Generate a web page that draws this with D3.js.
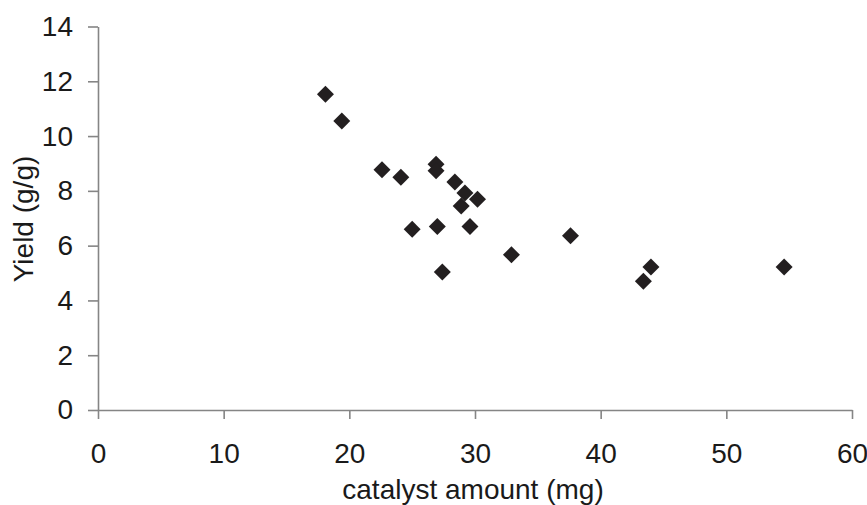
<!DOCTYPE html>
<html>
<head>
<meta charset="utf-8">
<script src="https://cdn.jsdelivr.net/npm/d3@7"></script>
<style>
  body { margin: 0; background: #fff; }
  svg { display: block; font-family: "Liberation Sans", Arial, sans-serif; }
</style>
</head>
<body>
<svg id="chart" width="867" height="505"></svg>
<script>
// catalyst amount (mg) vs yield (g/g)
const catalyst = [18.1, 19.4, 22.6, 24.1, 26.9, 26.9, 28.4, 29.2, 30.2, 28.9,
                  25.0, 27.0, 29.6, 37.6, 32.9, 27.4, 44.0, 43.4, 54.6];
const yieldVals = [11.53, 10.55, 8.77, 8.50, 8.97, 8.73, 8.32, 7.92, 7.69, 7.45,
                   6.60, 6.70, 6.70, 6.36, 5.67, 5.04, 5.22, 4.70, 5.22];
const xTicks = [0, 10, 20, 30, 40, 50, 60];
const yTicks = [0, 2, 4, 6, 8, 10, 12, 14];

const margin = { top: 26.5, right: 15, bottom: 95, left: 98 };
const width = 852 - margin.left;
const height = 410 - margin.top;

const svg = d3.select("#chart");
const g = svg.append("g")
    .attr("transform", `translate(${margin.left},${margin.top})`);

const x = d3.scaleLinear().domain([0, 60]).range([0, width]);
const y = d3.scaleLinear().domain([0, 14]).range([height, 0]);

const axisColor = "#858585";
const textColor = "#1a1a1a";

// X axis
const xAxis = g.append("g")
    .attr("transform", `translate(0,${height})`)
    .call(d3.axisBottom(x).tickValues(xTicks).tickSize(9).tickPadding(24).tickSizeOuter(0));

// Y axis
const yAxis = g.append("g")
    .call(d3.axisLeft(y).tickValues(yTicks).tickSize(10).tickPadding(15).tickSizeOuter(0));

[xAxis, yAxis].forEach(ax => {
    ax.select(".domain").attr("stroke", axisColor).attr("stroke-width", 1.6);
    ax.selectAll(".tick line").attr("stroke", axisColor).attr("stroke-width", 1.6);
    ax.selectAll(".tick text")
        .attr("fill", textColor)
        .style("font-size", "28px")
        .style("font-family", "'Liberation Sans', Arial, sans-serif");
});

// Axis titles
svg.append("text")
    .attr("x", 473)
    .attr("y", 499)
    .attr("text-anchor", "middle")
    .attr("fill", textColor)
    .style("font-size", "28px")
    .text("catalyst amount (mg)");

svg.append("text")
    .attr("transform", "translate(33,219) rotate(-90)")
    .attr("text-anchor", "middle")
    .attr("fill", textColor)
    .style("font-size", "28px")
    .text("Yield (g/g)");

// Points (diamonds)
const diamond = d3.symbol().type(d3.symbolSquare).size(144);
const points = catalyst.map((c, i) => ({ c: c, v: yieldVals[i] }));

g.selectAll(".pt")
    .data(points)
    .enter()
    .append("path")
    .attr("class", "pt")
    .attr("d", diamond)
    .attr("transform", d => `translate(${x(d.c)},${y(d.v)}) rotate(45)`)
    .attr("fill", "#231f20");
</script>
</body>
</html>
